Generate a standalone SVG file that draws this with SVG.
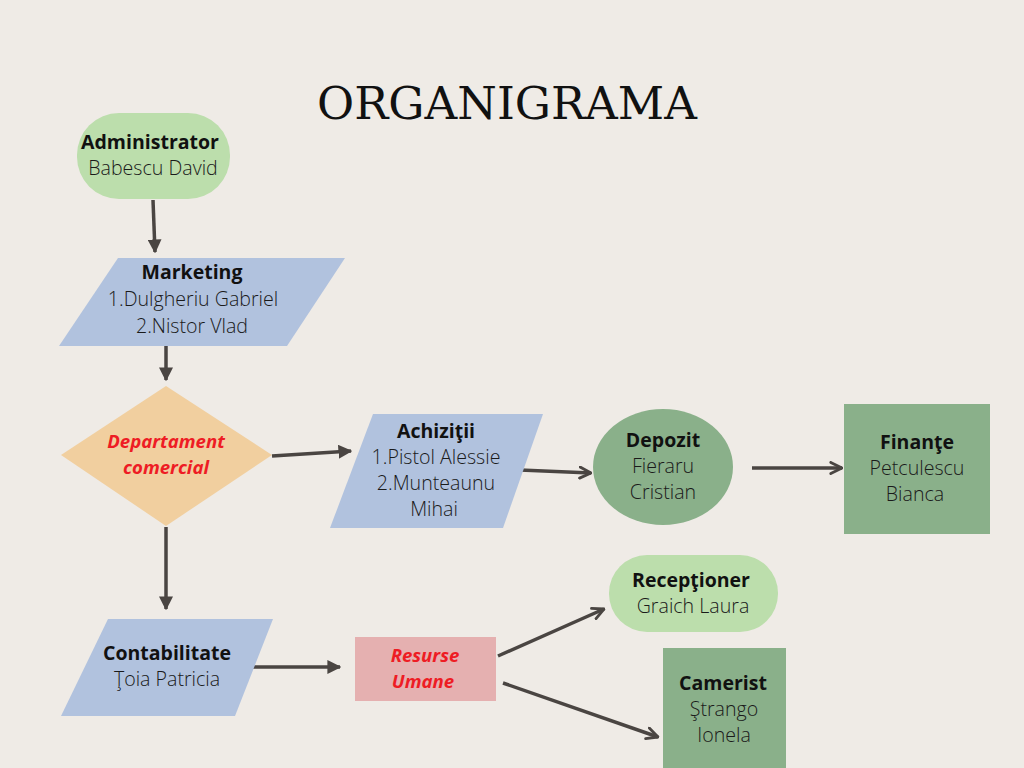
<svg xmlns="http://www.w3.org/2000/svg" width="1024" height="768" viewBox="0 0 1024 768">
<defs>
<style>
.t{font-family:"Open Sans","Liberation Sans",sans-serif;font-size:18px;text-anchor:middle;fill:#1a1a1a}
.b{font-weight:700;font-size:19.5px;fill:#111}
.l{font-weight:300;font-size:19.6px}
.r{font-weight:700;font-style:italic;font-size:18.6px;fill:#ee1c24}
.c{fill:none;stroke:#4a4542;stroke-width:3.5}
</style>
<marker id="tri" viewBox="0 0 10 10" refX="9" refY="5" markerWidth="4" markerHeight="4" orient="auto" markerUnits="strokeWidth">
<path d="M0,0 L10,5 L0,10 z" fill="#4a4542"/>
</marker>
<marker id="chev" viewBox="0 0 10 10" refX="9" refY="5" markerWidth="4" markerHeight="4" orient="auto" markerUnits="strokeWidth">
<path d="M1,1 L9,5 L1,9" fill="none" stroke="#4a4542" stroke-width="2" stroke-linecap="round" stroke-linejoin="round"/>
</marker>
</defs>
<rect width="1024" height="768" fill="#efebe6"/>
<text x="507" y="119" font-family="DejaVu Serif,serif" font-size="45.3" text-anchor="middle" fill="#111">ORGANIGRAMA</text>

<g id="connectors">
<path class="c" d="M153,200 L155,252" marker-end="url(#tri)"/>
<path class="c" d="M166,346 L166,380" marker-end="url(#tri)"/>
<path class="c" d="M272,456 L351,451" marker-end="url(#tri)"/>
<path class="c" d="M520,470 L591,473" marker-end="url(#chev)"/>
<path class="c" d="M752,468 L842,468" marker-end="url(#chev)"/>
<path class="c" d="M166,527 L166,609" marker-end="url(#tri)"/>
<path class="c" d="M252,667 L340,667" marker-end="url(#tri)"/>
<path class="c" d="M498,656 L604,609" marker-end="url(#chev)"/>
<path class="c" d="M503,683 L658,737" marker-end="url(#chev)"/>
</g>

<g id="administrator">
<rect x="77" y="113" width="153" height="86" rx="42" fill="#bcdeac"/>
<text class="t b" x="150" y="149">Administrator</text>
<text class="t l" x="153" y="175">Babescu David</text>
</g>

<g id="marketing">
<polygon points="118,258 345,258 287,346 59,346" fill="#b1c2de"/>
<text class="t b" x="192" y="279">Marketing</text>
<text class="t l" x="193" y="306">1.Dulgheriu Gabriel</text>
<text class="t l" x="192" y="333">2.Nistor Vlad</text>
</g>

<g id="departament">
<polygon points="166,386 272,455 166,526 61,455" fill="#f1cf9f"/>
<text class="t r" x="166" y="448">Departament</text>
<text class="t r" x="166" y="474">comercial</text>
</g>

<g id="achizitii">
<polygon points="373,414 543,414 503,528 330,528" fill="#b1c2de"/>
<text class="t b" x="436" y="438">Achiziţii</text>
<text class="t l" x="436" y="464">1.Pistol Alessie</text>
<text class="t l" x="436" y="490">2.Munteaunu</text>
<text class="t l" x="434" y="516">Mihai</text>
</g>

<g id="depozit">
<ellipse cx="663" cy="467" rx="70" ry="58" fill="#8ab08a"/>
<text class="t b" x="663" y="447">Depozit</text>
<text class="t l" x="663" y="473">Fieraru</text>
<text class="t l" x="663" y="499">Cristian</text>
</g>

<g id="finante">
<rect x="844" y="404" width="146" height="130" fill="#8ab08a"/>
<text class="t b" x="917" y="449">Finanţe</text>
<text class="t l" x="917" y="475">Petculescu</text>
<text class="t l" x="915" y="501">Bianca</text>
</g>

<g id="contabilitate">
<polygon points="108,619 273,619 235,716 61,716" fill="#b1c2de"/>
<text class="t b" x="167" y="660">Contabilitate</text>
<text class="t l" x="167" y="686">Ţoia Patricia</text>
</g>

<g id="resurse">
<rect x="355" y="637" width="141" height="64" fill="#e5b0b0"/>
<text class="t r" x="425" y="662">Resurse</text>
<text class="t r" x="423" y="688">Umane</text>
</g>

<g id="receptioner">
<rect x="609" y="555" width="169" height="77" rx="38" fill="#bcdeac"/>
<text class="t b" x="691" y="587">Recepţioner</text>
<text class="t l" x="693" y="613">Graich Laura</text>
</g>

<g id="camerist">
<rect x="663" y="648" width="123" height="125" fill="#8ab08a"/>
<text class="t b" x="723" y="690">Camerist</text>
<text class="t l" x="724" y="716">Ştrango</text>
<text class="t l" x="724" y="742">Ionela</text>
</g>
</svg>
